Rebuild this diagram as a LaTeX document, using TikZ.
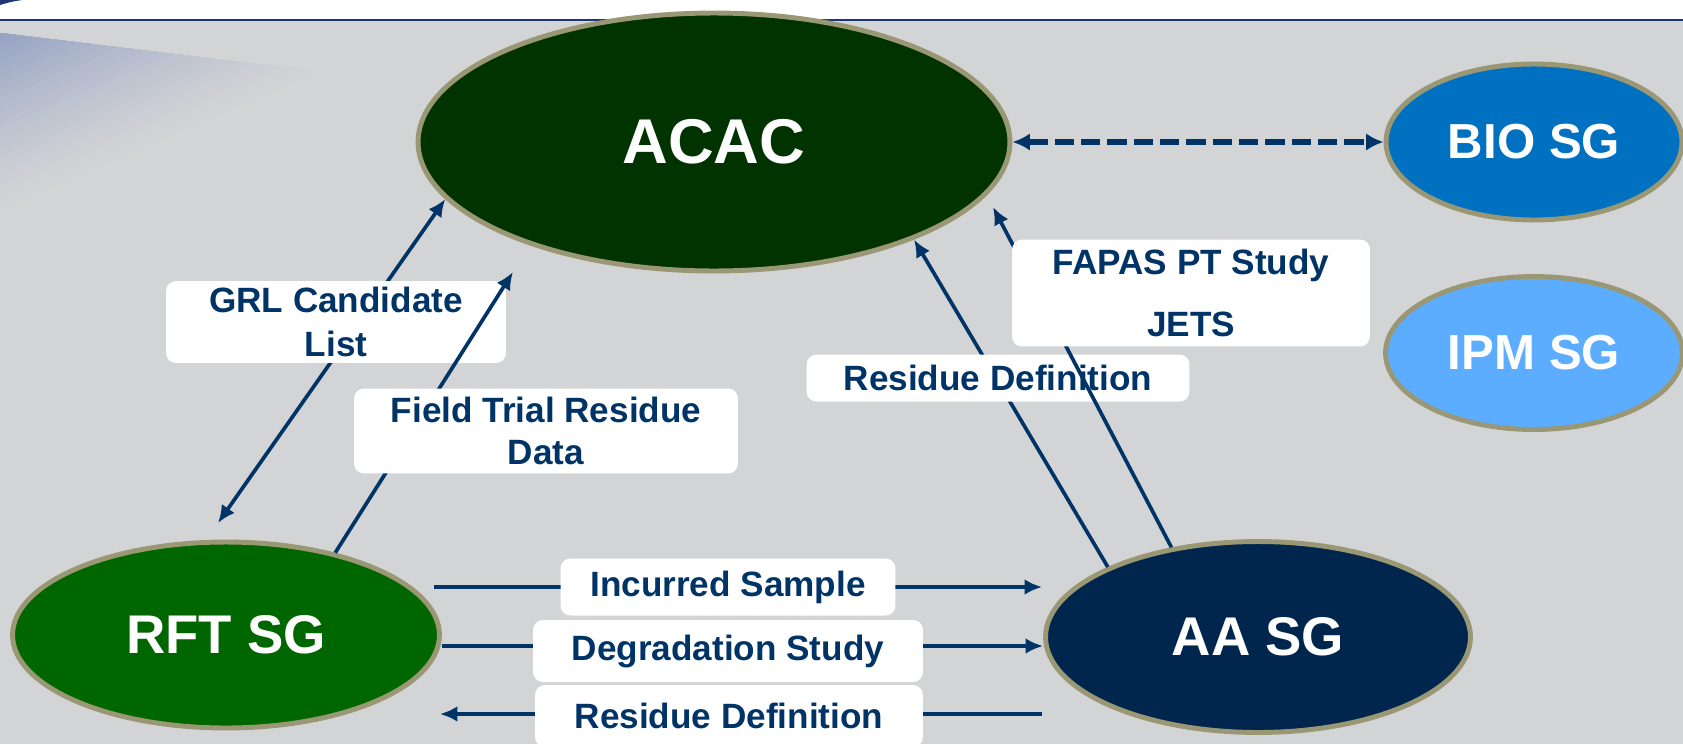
\documentclass[tikz,border=0pt]{standalone}
\usepackage{fontspec}
\setmainfont{Liberation Sans}
\usetikzlibrary{shapes,
                 calc,
                 arrows.meta
  }
\definecolor{bg}{HTML}{D3D4D6}
\definecolor{rim}{HTML}{9A9874}
\definecolor{navy}{HTML}{003366}
\definecolor{topline}{HTML}{1F3575}
\definecolor{wedge}{HTML}{93A1C3}
\definecolor{acacgreen}{HTML}{003300}
\definecolor{rftgreen}{HTML}{006600}
\definecolor{aanavy}{HTML}{00264D}
\definecolor{bioblue}{HTML}{0070C0}
\definecolor{ipmblue}{HTML}{5CACFF}

\begin{document}
\begin{tikzpicture}[
      x=0.02cm, y=-0.02cm,
      >={Latex[length=10pt,width=9pt]},
      group/.style={
                ellipse,
                draw=rim,
                line width=2.8pt,
                text=white,
                inner sep=0pt,
                font=\bfseries\fontsize{31}{31}\selectfont
                },
      flow/.style={
                rectangle,
                rounded corners=0.2cm,
                fill=white,
                text=navy,
                align=center,
                inner sep=0pt,
                font=\bfseries\fontsize{20}{25}\selectfont
                },
      link/.style={
                draw=navy,
                line width=2.1pt,
                ->
                }
]

\useasboundingbox (0,0) rectangle (1683,744);
\fill[white] (0,0) rectangle (1683,20);
\fill[bg] (0,20) rectangle (1683,744);
\draw[topline, line width=1.2pt] (0,20) -- (1683,20);
\fill[topline] (0,0) -- (22,0) .. controls (10,2) .. (0,5) -- cycle;
\foreach \t in {1.00,0.96,...,0.04}{
  \pgfmathsetmacro{\mix}{100*(1-\t)^1.3}
  \fill[wedge!\mix!bg] (0,33) -- (332*\t,33+40*\t) -- (0,33+182*\t) -- cycle;
}

\node[group, fill=acacgreen, minimum width=11.84cm, minimum height=5.16cm,
      font=\bfseries\fontsize{36}{36}\selectfont] (acac) at (714,142) {ACAC};
\node[group, fill=bioblue, minimum width=5.92cm, minimum height=3.12cm,
      font=\bfseries\fontsize{28}{28}\selectfont] (bio) at (1534,142) {BIO SG};
\node[group, fill=ipmblue, minimum width=5.94cm, minimum height=3.06cm,
      font=\bfseries\fontsize{28}{28}\selectfont] (ipm) at ($ (bio) + (0,211) $) {IPM SG};
\node[group, fill=rftgreen, minimum width=8.54cm, minimum height=3.72cm] (rft) at (226,635) {RFT SG};
\node[group, fill=aanavy, minimum width=8.5cm, minimum height=3.82cm] (aa) at (1258,637) {AA SG};

\draw[link, <->, line width=3.4pt, dash pattern=on 11pt off 4pt,
      >={Latex[length=10pt,width=10pt]}] (acac.east) -- (bio.west);

\coordinate (grl end) at (218,523);
\draw[link, <->] (grl end) -- (acac.192);
\node[flow, minimum width=6.8cm, minimum height=1.64cm] (grl) at (336,322) {GRL Candidate\\List};

\coordinate (ftr end) at (513,272);
\draw[link] (rft.37) -- (ftr end);
\node[flow, minimum width=7.68cm, minimum height=1.7cm,
      font=\bfseries\fontsize{20}{24}\selectfont] (ftr) at (546,431) {Field Trial Residue\\Data};

\draw[link] (aa.155) -- (acac.-26);
\node[flow, minimum width=7.66cm, minimum height=0.94cm] (resup) at (998,378) {Residue Definition};

\coordinate (fapas end) at (993,207);
\draw[link] (aa.134) -- (fapas end);
\node[flow, minimum width=7.16cm, minimum height=2.14cm,
      font=\bfseries\fontsize{20}{35}\selectfont] (fapas) at (1191,293) {FAPAS PT Study\\JETS};

\coordinate (inc start) at ($ (rft.east) + (-8,-48) $);
\coordinate (inc end) at ($ (aa.west) + (-1,-50) $);
\draw[link] (inc start) -- (inc end);
\node[flow, minimum width=6.7cm, minimum height=1.14cm] (inc) at (728,587) {Incurred Sample};

\draw[link] ($ (rft.east) + (0,11) $) -- ($ (aa.west) + (0,9) $);
\node[flow, minimum width=7.8cm, minimum height=1.24cm] (deg) at (728,651) {Degradation Study};

\coordinate (back start) at ($ (aa.west) + (-1,77) $);
\coordinate (back end) at ($ (rft.east) + (-2,79) $);
\draw[link] (back start) -- (back end);
\node[flow, minimum width=7.76cm, minimum height=1.24cm] (resdown) at (729,716) {Residue Definition};

\end{tikzpicture}
\end{document}
